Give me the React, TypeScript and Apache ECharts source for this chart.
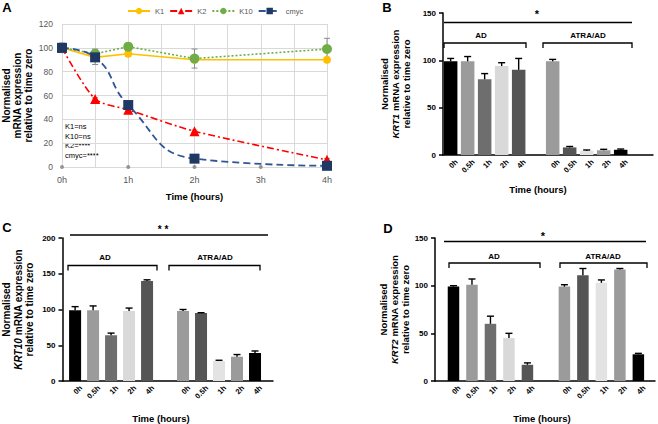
import React, { useEffect, useRef } from "react";
import * as echarts from "echarts";

const FONT = '"Liberation Sans", Arial, Helvetica, sans-serif';

// ---------- Panel A data ----------
const timeA = [0, 0.5, 1, 2, 4];
const k1 = [100, 92, 95, 90, 90];
const k1Err = [2, 2, 2, 2, 2];
const k2 = [100, 57, 48, 30, 6];
const k2Err = [1, 1, 1, 1, 1];
const k10 = [100, 95, 101, 91, 99];
const k10Err = [2, 4, 2, 8, 9];
const cmyc = [100, 92, 52, 7, 1];
const cmycErr = [4, 6, 2, 2, 1];
const baselineTimes = [0, 1, 2, 3, 4];
const statsA = ["K1=ns", "K10=ns", "K2=****", "cmyc=****"];

// ---------- Bar panels data ----------
const barLabels = ["0h", "0.5h", "1h", "2h", "4h"];
const barPos = [0, 1, 2, 3, 4, 6, 7, 8, 9, 10];
const barColors = [
  "#000000", "#9B9B9B", "#6E6E6E", "#D9D9D9", "#555555",
  "#9B9B9B", "#555555", "#E3E3E3", "#9B9B9B", "#000000",
];
const krt1 = [99, 99, 80, 94, 90, 99, 8, 4.5, 5, 5.5];
const krt1Err = [3, 5, 6, 3.5, 12, 2, 1, 0.8, 1, 0.8];
const krt10 = [99, 99, 64, 98, 140, 98, 95, 28, 34, 39];
const krt10Err = [5, 6, 3, 4, 1.5, 2, 0.5, 1, 3, 3];
const krt2 = [99, 101, 60, 45, 17, 99, 111, 103, 117, 28];
const krt2Err = [1, 6, 8, 5, 2, 2, 7, 3, 1, 1];

const pairs = (xs: number[], ys: number[]) => xs.map((x, i) => [x, ys[i]]);
const triples = (xs: number[], ys: number[], es: number[]) =>
  xs.map((x, i) => [x, ys[i], es[i]]);

function errLineRender(color: string) {
  return (params: any, api: any) => {
    const x = api.value(0);
    const y = api.value(1);
    const e = api.value(2);
    const top = api.coord([x, y + e]);
    const bot = api.coord([x, y - e]);
    const w = 3;
    const st = { stroke: color, lineWidth: 1 };
    return {
      type: "group",
      children: [
        { type: "line", shape: { x1: top[0], y1: top[1], x2: bot[0], y2: bot[1] }, style: st },
        { type: "line", shape: { x1: top[0] - w, y1: top[1], x2: top[0] + w, y2: top[1] }, style: st },
        { type: "line", shape: { x1: bot[0] - w, y1: bot[1], x2: bot[0] + w, y2: bot[1] }, style: st },
      ],
    };
  };
}

function barErrRender(params: any, api: any) {
  const x = api.value(0);
  const y = api.value(1);
  const e = api.value(2);
  const p0 = api.coord([x, y]);
  const p1 = api.coord([x, y + e]);
  const w = 3.5;
  const st = { stroke: "#000", lineWidth: 1.4 };
  return {
    type: "group",
    children: [
      { type: "line", shape: { x1: p0[0], y1: p0[1], x2: p1[0], y2: p1[1] }, style: st },
      { type: "line", shape: { x1: p1[0] - w, y1: p1[1], x2: p1[0] + w, y2: p1[1] }, style: st },
    ],
  };
}

function barYName(gene: string) {
  return `{n|Normalised}\n{i|${gene}}{n| mRNA expression}\n{n|relative to time zero}`;
}

function barYAxis(gridIndex: number, max: number, gene: string, gap: number, fs: number) {
  return {
    type: "value",
    gridIndex,
    min: 0,
    max,
    interval: 50,
    splitLine: { show: false },
    axisLine: { show: true, onZero: false, lineStyle: { color: "#000", width: 1.5 } },
    axisTick: { show: true, length: 4, lineStyle: { color: "#000", width: 1.5 } },
    axisLabel: { color: "#000", fontFamily: FONT, fontWeight: "bold", fontSize: 8, margin: 7 },
    name: barYName(gene),
    nameLocation: "middle",
    nameGap: gap,
    nameRotate: 90,
    nameTextStyle: {
      fontFamily: FONT,
      fontWeight: "bold",
      fontSize: fs,
      lineHeight: fs + 1.5,
      color: "#000",
      rich: {
        n: { fontFamily: FONT, fontWeight: "bold", fontSize: fs, lineHeight: fs + 1.5, color: "#000" },
        i: { fontFamily: FONT, fontWeight: "bold", fontStyle: "italic", fontSize: fs, lineHeight: fs + 1.5, color: "#000" },
      },
    },
  };
}

function barXAxis(gridIndex: number, min: number, max: number) {
  return {
    type: "value",
    gridIndex,
    min,
    max,
    splitLine: { show: false },
    axisLine: { show: true, onZero: false, lineStyle: { color: "#000", width: 1.5 } },
    axisTick: { show: false },
    axisLabel: { show: false },
  };
}

function barSeries(idx: number, vals: number[], errs: number[], width: number) {
  return [
    {
      type: "bar",
      xAxisIndex: idx,
      yAxisIndex: idx,
      barWidth: width,
      data: barPos.map((x, i) => ({ value: [x, vals[i]], itemStyle: { color: barColors[i] } })),
      z: 2,
    },
    {
      type: "custom",
      xAxisIndex: idx,
      yAxisIndex: idx,
      renderItem: barErrRender,
      data: triples(barPos, vals, errs),
      z: 3,
    },
  ];
}

function txt(x: number, y: number, text: string, size: number, opts: any = {}) {
  return {
    type: "text",
    x,
    y,
    style: {
      text,
      fontFamily: FONT,
      fontSize: size,
      fontWeight: "bold",
      fill: "#000",
      align: "center",
      verticalAlign: "middle",
      ...opts,
    },
  };
}

function hline(x1: number, x2: number, y: number) {
  return { type: "line", shape: { x1, y1: y, x2, y2: y }, style: { stroke: "#000", lineWidth: 1.3 } };
}

function bracket(x1: number, x2: number, y: number, drop: number) {
  return {
    type: "polyline",
    shape: { points: [[x1, y + drop], [x1, y], [x2, y], [x2, y + drop]] },
    style: { stroke: "#000", lineWidth: 1.3, fill: null },
  };
}

function staticGraphics() {
  return [
    txt(7, 7, "A", 13),
    txt(387, 7, "B", 13),
    txt(7, 227, "C", 13),
    txt(388, 228, "D", 13),
    {
      type: "text",
      x: 65,
      y: 122,
      style: {
        text: statsA.join("\n"),
        fontFamily: FONT,
        fontSize: 7.5,
        lineHeight: 9.5,
        fill: "#000",
        align: "left",
        verticalAlign: "top",
      },
    },
    txt(538, 189, "Time (hours)", 9.5),
    txt(161, 418, "Time (hours)", 9.5),
    txt(542, 418, "Time (hours)", 9.5),
    hline(444, 632, 22.5),
    txt(537, 14, "*", 11),
    bracket(444, 526, 43, 5),
    bracket(543, 632, 43, 5),
    txt(481, 35, "AD", 8),
    txt(588, 35, "ATRA/AD", 8),
    hline(70, 268, 235),
    txt(163, 229, "* *", 10),
    bracket(68, 157, 265.5, 5),
    bracket(169, 260, 265.5, 5),
    txt(105, 257, "AD", 8),
    txt(215, 257, "ATRA/AD", 8),
    hline(444, 646, 241.5),
    txt(543, 236, "*", 11),
    bracket(449, 540, 263, 5),
    bracket(560, 647, 263, 5),
    txt(494, 256, "AD", 8),
    txt(603, 256, "ATRA/AD", 8),
  ];
}

// rotated tick labels placed through each bar panel's axes (rich text)
function tickLabelGraphics(chart: any) {
  const out: any[] = [];
  [1, 2, 3].forEach((idx) => {
    barPos.forEach((x, i) => {
      const p = chart.convertToPixel({ xAxisIndex: idx, yAxisIndex: idx }, [x, 0]);
      out.push({
        type: "text",
        x: p[0] + 3,
        y: p[1] + 3,
        rotation: Math.PI / 4,
        originX: 0,
        originY: 0,
        style: {
          text: `{t|${barLabels[i % 5]}}`,
          align: "right",
          verticalAlign: "top",
          rich: {
            t: { fontFamily: FONT, fontWeight: "bold", fontSize: 7.5, fill: "#000", color: "#000" },
          },
        },
      });
    });
  });
  return out;
}

function buildOption() {
  const gridGray = "#D9D9D9";
  return {
    animation: false,
    backgroundColor: "#fff",
    textStyle: { fontFamily: FONT },
    legend: {
      data: ["K1", "K2", "K10", "cmyc"],
      left: 122,
      top: 2,
      itemWidth: 22,
      itemHeight: 8,
      itemGap: 5,
      textStyle: { fontFamily: FONT, fontSize: 7.5, color: "#595959" },
    },
    grid: [
      { left: 60, right: 331, top: 24, bottom: 257 },
      { left: 443, right: 5, top: 13, bottom: 269 },
      { left: 60, right: 385, top: 238, bottom: 43 },
      { left: 435, right: 3, top: 238, bottom: 43 },
    ],
    xAxis: [
      {
        type: "value",
        gridIndex: 0,
        min: 0,
        max: 4,
        interval: 0.5,
        splitLine: { show: true, lineStyle: { color: gridGray, width: 1 } },
        axisLine: { show: false },
        axisTick: { show: false },
        axisLabel: {
          color: "#595959",
          fontFamily: FONT,
          fontSize: 9,
          margin: 8,
          formatter: (v: number) => (Number.isInteger(v) ? `${v}h` : ""),
        },
        name: "Time (hours)",
        nameLocation: "middle",
        nameGap: 24,
        nameTextStyle: { fontFamily: FONT, fontWeight: "bold", fontSize: 9.5, color: "#000" },
      },
      barXAxis(1, -0.45, 11.9),
      barXAxis(2, -0.7, 11.0),
      barXAxis(3, -1.0, 10.9),
    ],
    yAxis: [
      {
        type: "value",
        gridIndex: 0,
        min: 0,
        max: 120,
        interval: 20,
        splitLine: { show: true, lineStyle: { color: gridGray, width: 1 } },
        axisLine: { show: false },
        axisTick: { show: false },
        axisLabel: { color: "#595959", fontFamily: FONT, fontSize: 8.5, margin: 9 },
        name: "Normalised\nmRNA expression\nrelative to time zero",
        nameLocation: "middle",
        nameGap: 28,
        nameRotate: 90,
        nameTextStyle: { fontFamily: FONT, fontWeight: "bold", fontSize: 10, lineHeight: 11, color: "#000" },
      },
      barYAxis(1, 150, "KRT1", 31, 9.5),
      barYAxis(2, 200, "KRT10", 27, 10),
      barYAxis(3, 150, "KRT2", 23, 9.5),
    ],
    series: [
      { type: "custom", xAxisIndex: 0, yAxisIndex: 0, renderItem: errLineRender("#8C8C8C"), data: triples(timeA, k1, k1Err), z: 1 },
      { type: "custom", xAxisIndex: 0, yAxisIndex: 0, renderItem: errLineRender("#8C8C8C"), data: triples(timeA, k2, k2Err), z: 1 },
      { type: "custom", xAxisIndex: 0, yAxisIndex: 0, renderItem: errLineRender("#8C8C8C"), data: triples(timeA, k10, k10Err), z: 1 },
      { type: "custom", xAxisIndex: 0, yAxisIndex: 0, renderItem: errLineRender("#8C8C8C"), data: triples(timeA, cmyc, cmycErr), z: 1 },
      {
        type: "scatter",
        xAxisIndex: 0,
        yAxisIndex: 0,
        symbol: "circle",
        symbolSize: 4,
        itemStyle: { color: "#808080" },
        data: baselineTimes.map((t) => [t, 0]),
        z: 2,
        silent: true,
      },
      {
        name: "K1",
        type: "line",
        xAxisIndex: 0,
        yAxisIndex: 0,
        data: pairs(timeA, k1),
        symbol: "circle",
        symbolSize: 8,
        itemStyle: { color: "#FFC000" },
        lineStyle: { color: "#FFC000", width: 1.6 },
        z: 3,
      },
      {
        name: "K2",
        type: "line",
        xAxisIndex: 0,
        yAxisIndex: 0,
        data: pairs(timeA, k2),
        smooth: 0.25,
        symbol: "triangle",
        symbolSize: 10,
        itemStyle: { color: "#FF0000" },
        lineStyle: { color: "#FF0000", width: 1.6, type: [7, 3, 2, 3] },
        z: 3,
      },
      {
        name: "K10",
        type: "line",
        xAxisIndex: 0,
        yAxisIndex: 0,
        data: pairs(timeA, k10),
        symbol: "circle",
        symbolSize: 10,
        itemStyle: { color: "#70AD47" },
        lineStyle: { color: "#70AD47", width: 1.6, type: [2, 2] },
        z: 3,
      },
      {
        name: "cmyc",
        type: "line",
        xAxisIndex: 0,
        yAxisIndex: 0,
        data: pairs(timeA, cmyc),
        smooth: 0.5,
        symbol: "rect",
        symbolSize: 10,
        itemStyle: { color: "#203864" },
        lineStyle: { color: "#2F5597", width: 1.8, type: [7, 4] },
        z: 4,
      },
      ...barSeries(1, krt1, krt1Err, 13.5),
      ...barSeries(2, krt10, krt10Err, 12),
      ...barSeries(3, krt2, krt2Err, 11.5),
    ],
    graphic: staticGraphics(),
  };
}

export default function App() {
  const ref = useRef<HTMLDivElement>(null);
  useEffect(() => {
    document.body.style.margin = "0";
    const chart = echarts.init(ref.current as HTMLDivElement, null, { renderer: "svg" });
    chart.setOption(buildOption() as any);
    chart.setOption({ graphic: [...staticGraphics(), ...tickLabelGraphics(chart)] } as any);
    return () => chart.dispose();
  }, []);
  return <div ref={ref} style={{ width: 658, height: 424 }} />;
}
